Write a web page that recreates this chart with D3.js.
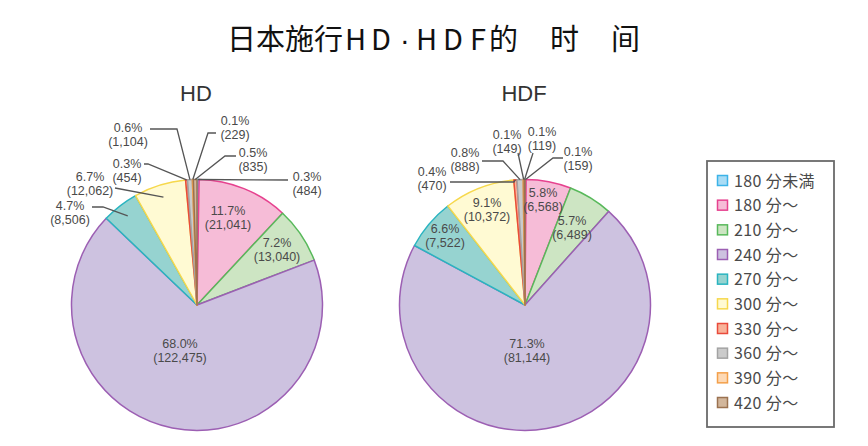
<!DOCTYPE html>
<html>
<head>
<meta charset="utf-8">
<script src="https://cdn.jsdelivr.net/npm/d3@7"></script>
<style>
  html, body { margin: 0; padding: 0; background: #fff; }
  svg { display: block; }
</style>
</head>
<body>
<svg id="chart" width="868" height="446"></svg>
<script>
// ---------- data ----------
const chartTitle = "日本施行HD ·HDF的时间";
const categories = ["180 分未満", "180 分〜", "210 分〜", "240 分〜", "270 分〜", "300 分〜", "330 分〜", "360 分〜", "390 分〜", "420 分〜"];
const seriesNames = ["HD", "HDF"];
const hdValues  = [484, 21041, 13040, 122475, 8506, 12062, 454, 1104, 229, 835];
const hdfValues = [159, 6568, 6489, 81144, 7522, 10372, 470, 888, 149, 119];

// ---------- styles ----------
const fills   = ["#a9dcf5", "#f6bcd7", "#cde5c3", "#cdc2e0", "#96d3d0", "#fffad3", "#f8b39a", "#cbcbcb", "#fdd9b5", "#d2b69b"];
const strokes = ["#3cb3e8", "#e6428f", "#58b95b", "#9c5fb3", "#2ab4c0", "#f6d84c", "#e94b3c", "#a3a3a3", "#f4a04a", "#9b7250"];

// ---------- layout ----------
const W = 868, H = 446;
const R = 125.5;
// x position of each title glyph (text layout only)
const titleGlyphX = [227, 256, 285, 314, 345, 371, 400, 416, 443, 470, 489, 550, 611];
const pies = [
  { name: seriesNames[0], values: hdValues, cx: 197, cy: 305,
    labels: [[110,-129],[31,-95],[80,-63],[-17,38],[-127,-100],[-107,-129],[-70,-142],[-69,-178],[38,-185],[56,-153]],
    leaders: [
      {pts: [[91,-125]], rf: 1.0},
      null, null, null,
      {pts: [[-105,-98],[-94,-98]], rf: 0.9},
      {pts: [[-82,-117]], rf: 0.9},
      {pts: [[-53,-141],[-49,-141]], rf: 1.0},
      {pts: [[-47,-176],[-20,-176]], rf: 1.0},
      {pts: [[19,-172],[11,-172]], rf: 1.0},
      {pts: [[39,-149],[28,-149]], rf: 1.0}
    ] },
  { name: seriesNames[1], values: hdfValues, cx: 525, cy: 305,
    labels: [[53,-154],[18,-113],[47,-85],[2,38],[-80,-77],[-38,-103],[-93,-134],[-60,-153],[-18,-171],[17,-174]],
    leaders: [
      {pts: [[38,-147],[28,-147]], rf: 1.0},
      null, null, null, null, null,
      {pts: [[-75,-123],[-11,-123]], rf: 1.0},
      {pts: [[-43,-144],[-22,-144]], rf: 1.0},
      {pts: [[-7,-152]], rf: 1.0},
      {pts: [[8,-152]], rf: 1.0}
    ] }
];

const svg = d3.select("#chart");
svg.append("rect").attr("width", W).attr("height", H).attr("fill", "#fff");

// title
const glyphs = Array.from(chartTitle).filter(c => c !== " ");
const t = svg.append("text")
  .attr("y", 50)
  .attr("font-family", "'Noto Sans CJK SC', 'Noto Sans', sans-serif")
  .attr("font-size", 29).attr("fill", "#111");
glyphs.forEach((c, i) => {
  const ts = t.append("tspan").attr("x", titleGlyphX[i]).text(c);
  if (c === "·") ts.attr("font-family", "'Liberation Sans', Arial, sans-serif");
});

const pieGen = d3.pie().sort(null).value(d => d).startAngle(0).endAngle(2 * Math.PI);
const arcGen = d3.arc().innerRadius(0).outerRadius(R);
const pctFmt = d3.format(".1%");
const numFmt = d3.format(",");
const labelFont = "'Liberation Sans', Arial, sans-serif";

pies.forEach(p => {
  const g = svg.append("g").attr("transform", `translate(${p.cx},${p.cy})`);
  const total = d3.sum(p.values);
  const arcs = pieGen(p.values);

  svg.append("text")
    .attr("x", p.cx - 1).attr("y", 101)
    .attr("text-anchor", "middle")
    .attr("font-family", labelFont)
    .attr("font-size", 22).attr("fill", "#333")
    .text(p.name);

  g.selectAll("path.slice").data(arcs).join("path")
    .attr("class", "slice")
    .attr("d", arcGen)
    .attr("fill", (d, i) => fills[i])
    .attr("stroke", (d, i) => strokes[i])
    .attr("stroke-width", 1.5)
    .attr("stroke-linejoin", "round");

  arcs.forEach((a, i) => {
    const L = p.leaders[i];
    if (!L) return;
    const mid = (a.startAngle + a.endAngle) / 2;
    const rr = R * L.rf;
    const end = [rr * Math.sin(mid), -rr * Math.cos(mid)];
    g.append("path")
      .attr("d", d3.line()(L.pts.concat([end])))
      .attr("fill", "none")
      .attr("stroke", "#555")
      .attr("stroke-width", 1.3);
  });

  arcs.forEach((a, i) => {
    const [lx, ly] = p.labels[i];
    const txt = g.append("text")
      .attr("text-anchor", "middle")
      .attr("font-family", labelFont)
      .attr("font-size", 12.5)
      .attr("fill", "#4a4a4a");
    txt.append("tspan").attr("x", lx).attr("y", ly + 4.5).text(pctFmt(p.values[i] / total));
    txt.append("tspan").attr("x", lx).attr("y", ly + 18.5).text("(" + numFmt(p.values[i]) + ")");
  });
});

// legend
const lg = svg.append("g");
lg.append("rect")
  .attr("x", 707).attr("y", 161).attr("width", 127).attr("height", 266)
  .attr("fill", "#fff").attr("stroke", "#6a6a6a").attr("stroke-width", 1.8);
const rowY = d3.scalePoint().domain(categories).range([181, 403]);
categories.forEach((c, i) => {
  const y = rowY(c);
  lg.append("rect")
    .attr("x", 717.5).attr("y", y - 5.5).attr("width", 10).attr("height", 10)
    .attr("fill", fills[i]).attr("stroke", strokes[i]).attr("stroke-width", 1.5);
  lg.append("text")
    .attr("x", 734).attr("y", y + 5.5)
    .attr("font-family", "'Noto Sans CJK JP', 'Noto Sans', sans-serif")
    .attr("font-size", 16).attr("letter-spacing", 0.4).attr("fill", "#4a4a4a")
    .text(c);
});
</script>
</body>
</html>
